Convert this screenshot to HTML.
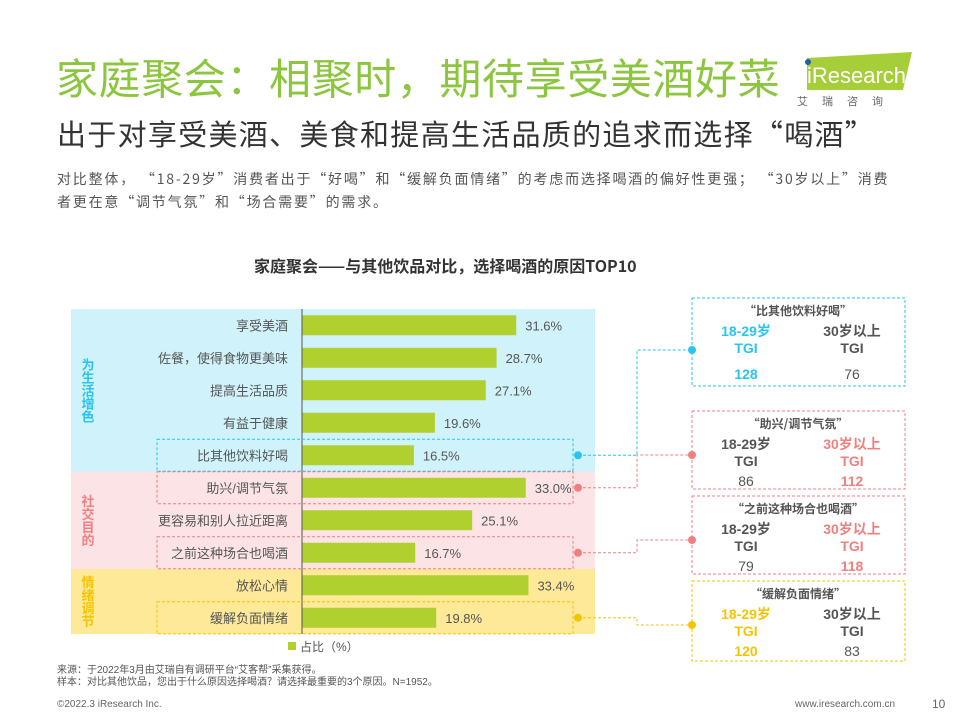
<!DOCTYPE html>
<html><head><meta charset="utf-8"><style>
body{margin:0;width:960px;height:720px;background:#fff;font-family:"Liberation Sans","Noto Sans CJK SC",sans-serif;position:relative;overflow:hidden;color:#404040}
.a{position:absolute;white-space:nowrap}
.cjk{font-family:"Noto Sans CJK SC","Liberation Sans",sans-serif}
</style></head><body>
<div class="a cjk" style="left:56px;top:49px;font-size:42px;line-height:56px;letter-spacing:0.6px;color:#8cc63f">家庭聚会：相聚时，期待享受美酒好菜</div>
<div class="a" style="left:795px;top:50px;width:118px;height:58px">
<svg width="118" height="58"><polygon points="12,8 117,2 108,40 12,40" fill="#a6ce39"/><circle cx="13" cy="12" r="3" fill="#1f5fa8"/><text x="12" y="33" font-size="22" fill="#fff" font-family="Liberation Sans">iResearch</text><text x="2" y="55" font-size="11" fill="#666" letter-spacing="14" font-family="Noto Sans CJK SC">艾瑞咨询</text></svg></div>
<div class="a cjk" style="left:57px;top:113px;font-size:29px;line-height:40px;letter-spacing:1.3px;color:#333">出于对享受美酒、美食和提高生活品质的追求而选择“喝酒”</div>
<div class="a cjk" style="left:57px;top:168px;font-size:14px;line-height:23px;letter-spacing:1.8px;color:#555">对比整体，&nbsp;“18-29岁”消费者出于“好喝”和“缓解负面情绪”的考虑而选择喝酒的偏好性更强；&nbsp;“30岁以上”消费<br>者更在意“调节气氛”和“场合需要”的需求。</div>
<div class="a cjk" style="left:254px;top:253px;font-size:16px;line-height:24px;font-weight:bold;color:#333">家庭聚会——与其他饮品对比，选择喝酒的原因TOP10</div>
<svg class="a" id="chart" style="left:0;top:0" width="960" height="720"></svg>
<div class="a" style="left:57px;top:665px;font-size:10px;line-height:12px;color:#555">来源：于2022年3月由艾瑞自有调研平台“艾客帮”采集获得。<br>样本：对比其他饮品，您出于什么原因选择喝酒？请选择最重要的3个原因。N=1952。</div>
<div class="a" style="left:57px;top:699px;font-size:10px;color:#666">©2022.3 iResearch Inc.</div>
<div class="a" style="left:795px;top:699px;font-size:10px;color:#666">www.iresearch.com.cn</div>
<div class="a" style="left:932px;top:697px;font-size:12px;color:#666">10</div>
<script>
const categories=["享受美酒","佐餐，使得食物更美味","提高生活品质","有益于健康","比其他饮料好喝","助兴/调节气氛","更容易和别人拉近距离","之前这种场合也喝酒","放松心情","缓解负面情绪"];
const shares=[31.6,28.7,27.1,19.6,16.5,33.0,25.1,16.7,33.4,19.8];
const groupNames=["为生活增色","社交目的","情绪调节"];
const groupSizes=[5,3,2];
const tgiTitles=["“比其他饮料好喝”","“助兴/调节气氛”","“之前这种场合也喝酒”","“缓解负面情绪”"];
const tgiYoung=[128,86,79,120];
const tgiOld=[76,112,118,83];
const tgiRows=[4,5,7,9];
const tgiHigh=[0,1,1,0];
const NS="http://www.w3.org/2000/svg";
const svg=document.getElementById('chart');
function mk(t,a,p){const e=document.createElementNS(NS,t);for(const k in a)e.setAttribute(k,a[k]);(p||svg).appendChild(e);return e;}
const x0=302,pxPer=6.78,yTop=309,rowH=32.5;
const xs=v=>x0+v*pxPer;
const yc=i=>yTop+rowH*(i+0.5);
const gFill=["#d0f2fa","#fce4e6","#fde998"],gText=["#29c4ef","#f08080","#f5c400"];
let start=0;
groupSizes.forEach((n,g)=>{
 const r=mk('rect',{x:71,y:yTop+start*rowH,width:524,height:n*rowH,fill:gFill[g]});
 
 
 const cy=yTop+(start+n/2)*rowH, chars=[...groupNames[g]];
 chars.forEach((c,k)=>{const t=mk('text',{x:88,y:cy+(k-(chars.length-1)/2)*13+5,'font-size':13,'text-anchor':'middle',fill:gText[g],'font-weight':'bold'});t.textContent=c;
 
 });
 start+=n;
});
categories.forEach((c,i)=>{
 const y=yc(i);
 const b=mk('rect',{x:x0,y:y-10,width:xs(shares[i])-x0,height:20,fill:'#b0d030'});
 
 
 const l=mk('text',{x:288,y:y+5,'font-size':13,'text-anchor':'end',fill:'#555'});l.textContent=c;
 
 
 const v=mk('text',{x:xs(shares[i])+9,y:y+5,'font-size':13,fill:'#555'});v.textContent=shares[i].toFixed(1)+'%';
 
 
});
const ax=mk('line',{x1:x0,y1:yTop,x2:x0,y2:634,stroke:'#555','stroke-width':1});


const lg=mk('rect',{x:288,y:642,width:8,height:8,fill:'#b0d030'});


const lt=mk('text',{x:300,y:651,'font-size':12,fill:'#555'});lt.textContent='占比（%）';


const hcol=["#29c4ef","#f08080","#f08080","#f5c400"];
const boxY=[298,411,496,581],boxH=[88,78,78,80];
tgiRows.forEach((ri,k)=>{
 const col=hcol[k],y=yc(ri);
 const hb=mk('rect',{x:157,y:y-16,width:416,height:32,fill:'none',stroke:col,'stroke-dasharray':'3,2'});
 
 
 const dotY=boxY[k]+(k==0?52:44);
 const p=mk('polyline',{points:`578,${y} 637,${y} 637,${dotY} 692,${dotY}`,fill:'none',stroke:col,'stroke-dasharray':'3,2'});
 
 
 const d1=mk('circle',{cx:578,cy:y,r:4,fill:col});
 
 
 const d2=mk('circle',{cx:692,cy:dotY,r:4,fill:col});
 
 
 const bx=mk('rect',{x:692,y:boxY[k],width:213,height:boxH[k],fill:'none',stroke:col,'stroke-dasharray':'3,2'});
 
 
 const by=boxY[k];
 const t=mk('text',{x:798,y:by+17,'font-size':12,'font-weight':'bold','text-anchor':'middle',fill:'#555','font-family':'Noto Sans CJK SC, sans-serif'});t.textContent=tgiTitles[k];
 
 
 const cYoung=tgiHigh[k]==0?col:'#555', cOld=tgiHigh[k]==1?col:'#555';
 [[746,'18-29岁',cYoung,tgiYoung[k]],[852,'30岁以上',cOld,tgiOld[k]]].forEach(([cx,lab,c,val],j)=>{
  const high=(j==tgiHigh[k]);
  const a=mk('text',{x:cx,y:by+38,'font-size':14,'font-weight':'bold','text-anchor':'middle',fill:c});a.textContent=lab;
  
  
  const b=mk('text',{x:cx,y:by+55,'font-size':14,'font-weight':'bold','text-anchor':'middle',fill:c});b.textContent='TGI';
  
  
  const v=mk('text',{x:cx,y:by+(k==0?81:75),'font-size':14,'font-weight':high?'bold':'normal','text-anchor':'middle',fill:c});v.textContent=val;
  
  
 });
});
</script>
</body></html>
